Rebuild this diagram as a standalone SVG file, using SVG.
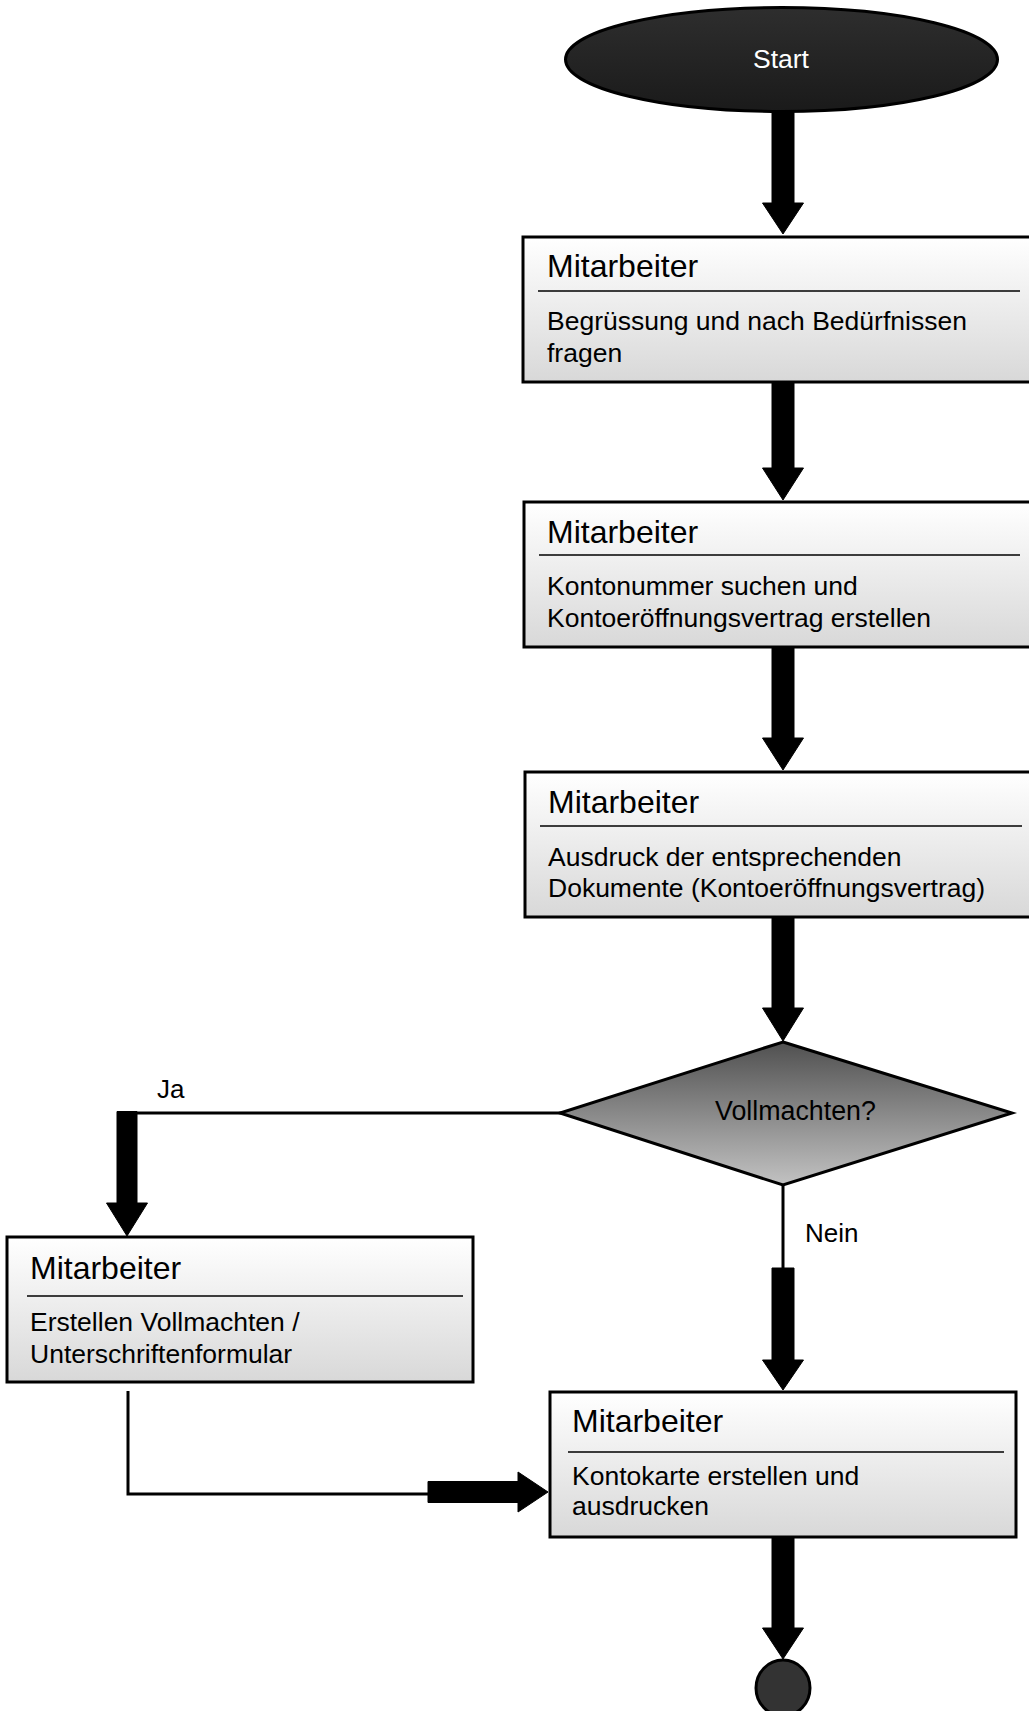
<svg xmlns="http://www.w3.org/2000/svg" width="1029" height="1711" viewBox="0 0 1029 1711">
<defs>
<linearGradient id="boxg" x1="0" y1="0" x2="0" y2="1"><stop offset="0" stop-color="#ffffff"/><stop offset="1" stop-color="#d8d8d8"/></linearGradient>
<linearGradient id="diag" x1="0" y1="0" x2="0" y2="1"><stop offset="0" stop-color="#505050"/><stop offset="1" stop-color="#c2c2c2"/></linearGradient>
<linearGradient id="startg" x1="0" y1="0" x2="0" y2="1"><stop offset="0" stop-color="#2e2e2e"/><stop offset="1" stop-color="#1a1a1a"/></linearGradient>
</defs>
<style>
.box{fill:url(#boxg);stroke:#000;stroke-width:3}
.sep{stroke:#000;stroke-width:1.6}
.title{font-family:"Liberation Sans",Arial,sans-serif;font-size:32px;fill:#000}
.body{font-family:"Liberation Sans",Arial,sans-serif;font-size:26.5px;fill:#000}
.lbl{font-family:"Liberation Sans",Arial,sans-serif;font-size:26px;fill:#000}
.fat{fill:#000;stroke:#000;stroke-width:1}
.thin{fill:none;stroke:#000;stroke-width:3}
</style>
<rect width="1029" height="1711" fill="#fff"/>

<g id="connectors">
<path class="fat" d="M772,112 L794,112 L794,203 L803.5,203 L783,234 L762.5,203 L772,203 Z"/>
<path class="fat" d="M772,382 L794,382 L794,468 L803.5,468 L783,500 L762.5,468 L772,468 Z"/>
<path class="fat" d="M772,647 L794,647 L794,738 L803.5,738 L783,770 L762.5,738 L772,738 Z"/>
<path class="fat" d="M772,917 L794,917 L794,1008 L803.5,1008 L783,1041 L762.5,1008 L772,1008 Z"/>
<line class="thin" x1="783" y1="1185" x2="783" y2="1269"/>
<path class="fat" d="M772,1268 L794,1268 L794,1360 L803.5,1360 L783,1390 L762.5,1360 L772,1360 Z"/>
<text class="lbl" x="805" y="1242">Nein</text>
<line class="thin" x1="135" y1="1113" x2="562" y2="1113"/>
<path class="fat" d="M117,1111.5 L137,1111.5 L137,1203 L147.5,1203 L127,1236 L106.5,1203 L117,1203 Z"/>
<text class="lbl" x="157" y="1098">Ja</text>
<polyline class="thin" points="128,1391 128,1494 430,1494"/>
<path class="fat" d="M428,1481.5 L518,1481.5 L518,1472 L548,1492 L518,1512 L518,1502.5 L428,1502.5 Z"/>
<path class="fat" d="M772,1537 L794,1537 L794,1628 L803.5,1628 L783,1659 L762.5,1628 L772,1628 Z"/>
</g>

<g id="start">
<ellipse cx="781.5" cy="59.5" rx="216" ry="52" fill="url(#startg)" stroke="#000" stroke-width="3"/>
<text x="781" y="68" font-family="Liberation Sans, Arial, sans-serif" font-size="26.5" fill="#fff" text-anchor="middle">Start</text>
</g>

<g id="n1">
<rect class="box" x="523" y="237" width="520" height="145"/>
<text class="title" x="547" y="277">Mitarbeiter</text>
<line class="sep" x1="538" y1="291" x2="1020" y2="291"/>
<text class="body" x="547" y="330">Begrüssung und nach Bedürfnissen</text>
<text class="body" x="547" y="362">fragen</text>
</g>

<g id="n2">
<rect class="box" x="524" y="502" width="520" height="145"/>
<text class="title" x="547" y="543">Mitarbeiter</text>
<line class="sep" x1="539" y1="555" x2="1020" y2="555"/>
<text class="body" x="547" y="595">Kontonummer suchen und</text>
<text class="body" x="547" y="627">Kontoeröffnungsvertrag erstellen</text>
</g>

<g id="n3">
<rect class="box" x="525" y="772" width="520" height="145"/>
<text class="title" x="548" y="813">Mitarbeiter</text>
<line class="sep" x1="540" y1="826" x2="1022" y2="826"/>
<text class="body" x="548" y="866">Ausdruck der entsprechenden</text>
<text class="body" x="548" y="897">Dokumente (Kontoeröffnungsvertrag)</text>
</g>

<g id="decision">
<polygon points="783,1042 1012,1113 783,1185 560,1113" fill="url(#diag)" stroke="#000" stroke-width="3"/>
<text x="715" y="1120" font-family="Liberation Sans, Arial, sans-serif" font-size="26.8" fill="#000">Vollmachten?</text>
</g>

<g id="n4">
<rect class="box" x="7" y="1237" width="466" height="145"/>
<text class="title" x="30" y="1279">Mitarbeiter</text>
<line class="sep" x1="27" y1="1296" x2="463" y2="1296"/>
<text class="body" x="30" y="1331">Erstellen Vollmachten /</text>
<text class="body" x="30" y="1363">Unterschriftenformular</text>
</g>

<g id="n5">
<rect class="box" x="550" y="1392" width="466" height="145"/>
<text class="title" x="572" y="1432">Mitarbeiter</text>
<line class="sep" x1="568" y1="1452" x2="1004" y2="1452"/>
<text class="body" x="572" y="1485">Kontokarte erstellen und</text>
<text class="body" x="572" y="1515">ausdrucken</text>
</g>

<g id="end">
<ellipse cx="783" cy="1688" rx="27" ry="28" fill="#333" stroke="#000" stroke-width="3"/>
</g>
</svg>
